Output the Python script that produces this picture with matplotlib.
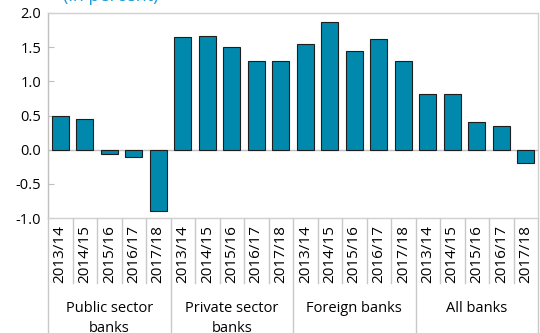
import numpy as np
import matplotlib
matplotlib.use("Agg")
import matplotlib.pyplot as plt
import matplotlib.transforms as mtransforms

# Data
groups = ["Public sector\nbanks", "Private sector\nbanks", "Foreign banks", "All banks"]
years = ["2013/14", "2014/15", "2015/16", "2016/17", "2017/18"]
public_vals = [0.50, 0.45, -0.07, -0.10, -0.90]
private_vals = [1.65, 1.67, 1.50, 1.30, 1.30]
foreign_vals = [1.54, 1.87, 1.45, 1.62, 1.30]
all_vals = [0.81, 0.81, 0.40, 0.35, -0.20]

values = public_vals + private_vals + foreign_vals + all_vals
labels = years * len(groups)

plt.rcParams['font.family'] = ['Open Sans', 'DejaVu Sans']

fig = plt.figure(figsize=(5.4, 3.33), dpi=100)
ax = fig.add_axes([48 / 540, 1 - 218 / 333, 490 / 540, 205 / 333])

x = np.arange(len(values))
ax.bar(x, values, width=0.68, color='#0089ad', edgecolor='#1e1e1e', linewidth=0.8, zorder=3)

ax.set_xlim(-0.5, len(values) - 0.5)
ax.set_ylim(-1.0, 2.0)
yt = np.arange(-1.0, 2.01, 0.5)
ax.set_yticks(yt)
ax.set_yticklabels([f"{v:.1f}" for v in yt], fontsize=10.5)
ax.tick_params(axis='y', direction='in', length=4, color='#bfbfbf', pad=5)

ax.set_xticks(x)
ax.set_xticklabels(labels, rotation=90, fontsize=11)
ax.tick_params(axis='x', length=0, pad=5)

for side in ['left', 'right', 'top', 'bottom']:
    ax.spines[side].set_color('#d0d0d0')
    ax.spines[side].set_linewidth(1.0)
ax.spines['left'].set_color('#bfbfbf')

ax.axhline(0, color='#bfbfbf', linewidth=1.0, zorder=2)

# separators under the axis
trans = mtransforms.blended_transform_factory(ax.transData, ax.transAxes)
for i in range(len(values) + 1):
    xpos = i - 0.5
    if i % len(years) == 0:
        ybot = -0.6
    else:
        ybot = -0.317
    ax.plot([xpos, xpos], [0, ybot], transform=trans, color='#c8c8c8',
            linewidth=1.0, clip_on=False)

for g, name in enumerate(groups):
    xc = g * len(years) + (len(years) - 1) / 2
    ax.text(xc, -0.405, name, transform=trans, ha='center', va='top',
            fontsize=10.5, linespacing=1.45, clip_on=False)

fig.text(63 / 540, 1 - 1 / 333, "(in percent)", color='#1f9bd1', fontsize=13,
         ha='left', va='baseline')

fig.savefig("out.png", dpi=100)
